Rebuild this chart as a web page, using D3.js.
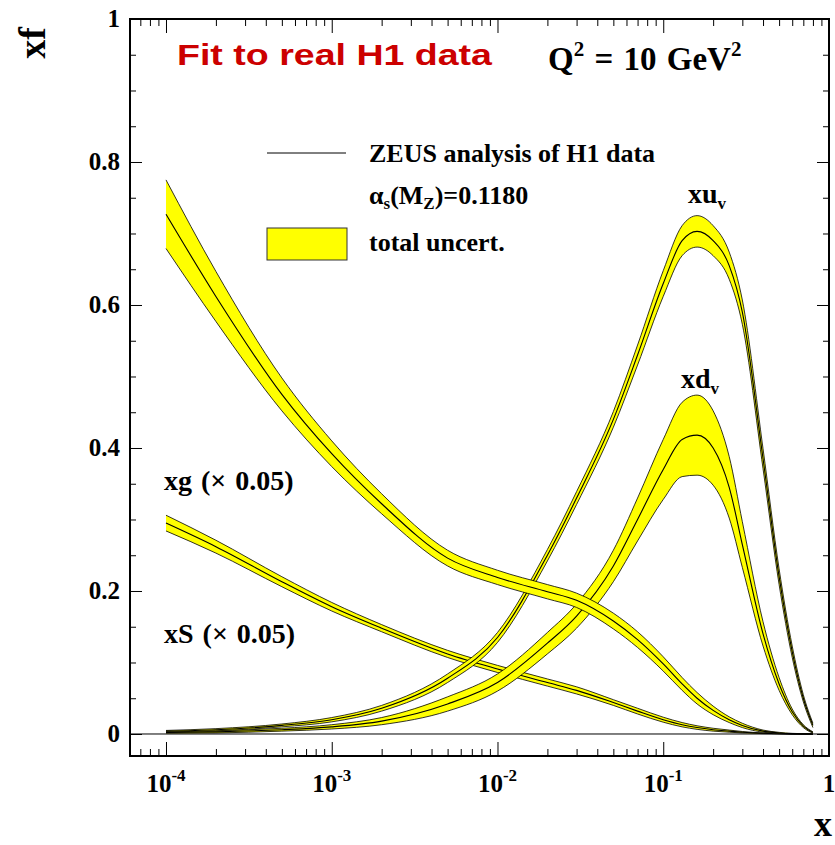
<!DOCTYPE html>
<html><head><meta charset="utf-8">
<script src="https://cdn.jsdelivr.net/npm/d3@7"></script>
<style>body{margin:0;background:#fff} svg{display:block}</style>
</head><body>
<script>
// ---------- data ----------
const xGrid = [1e-4,2e-4,5e-4,1e-3,2e-3,5e-3,1e-2,2e-2,3e-2,5e-2,0.07,0.1,0.13,0.16,0.2,0.25,0.3,0.4,0.5,0.6,0.7,0.8];

const xuvCentral = [0.004,0.006,0.012,0.020,0.036,0.078,0.135,0.250,0.330,0.440,0.530,0.630,0.690,0.703,0.690,0.655,0.590,0.385,0.220,0.115,0.050,0.012];
const xuvErr     = [0.001,0.0015,0.002,0.003,0.004,0.006,0.007,0.008,0.009,0.011,0.014,0.018,0.021,0.022,0.021,0.019,0.017,0.014,0.011,0.008,0.005,0.003];

const xdvCentral = [0.002,0.003,0.006,0.010,0.018,0.042,0.072,0.127,0.165,0.235,0.300,0.370,0.412,0.418,0.400,0.345,0.265,0.140,0.070,0.031,0.011,0.002];
const xdvErr     = [0.001,0.0015,0.002,0.003,0.005,0.010,0.012,0.015,0.017,0.022,0.030,0.042,0.052,0.056,0.052,0.043,0.032,0.017,0.009,0.004,0.002,0.001];

const xgCentral  = [0.727,0.612,0.475,0.392,0.322,0.246,0.219,0.199,0.187,0.158,0.132,0.098,0.070,0.050,0.033,0.020,0.012,0.004,0.0015,0.0005,0.0002,0.0001];
const xgErr      = [0.048,0.035,0.023,0.018,0.014,0.011,0.010,0.010,0.010,0.011,0.011,0.010,0.009,0.008,0.006,0.004,0.003,0.0015,0.0008,0.0004,0.0002,0.0001];

const xSCentral  = [0.295,0.262,0.213,0.178,0.148,0.112,0.091,0.072,0.061,0.044,0.032,0.020,0.013,0.009,0.006,0.004,0.0025,0.001,0.0004,0.0002,0.0001,0.0001];
const xSErr      = [0.011,0.009,0.007,0.006,0.005,0.005,0.005,0.005,0.005,0.004,0.004,0.0035,0.003,0.0025,0.002,0.0015,0.001,0.0005,0.0002,0.0001,0.0001,0.0001];

const yMajorTicks = [0,0.2,0.4,0.6,0.8,1];
const yMajorLabels = ["0","0.2","0.4","0.6","0.8","1"];
const xMajorTicks = [1e-4,1e-3,1e-2,1e-1,1];
const xMajorExp = ["-4","-3","-2","-1",""];

// ---------- layout ----------
const W = 835, H = 845;
const L = 130, R = 829, T = 19, B = 756;
const svg = d3.select("body").append("svg").attr("width", W).attr("height", H);

const x = d3.scaleLog().domain([6.065e-5, 1]).range([L, R]);
const y = d3.scaleLinear().domain([-0.03077, 1]).range([B, T]);

const serif = "'Liberation Serif','Times New Roman',serif";
const sans = "'Liberation Sans',Arial,sans-serif";

// zero line
svg.append("line").attr("x1", L).attr("x2", R).attr("y1", y(0)).attr("y2", y(0))
  .attr("stroke", "#000").attr("stroke-width", 1);

// ---------- bands ----------
function band(central, err) {
  const pts = xGrid.map((xv, i) => ({x: xv, c: central[i], lo: central[i] - err[i], hi: central[i] + err[i]}));
  const curve = d3.curveMonotoneX;
  const area = d3.area().x(d => x(d.x)).y0(d => y(d.lo)).y1(d => y(d.hi)).curve(curve);
  const g = svg.append("g");
  g.append("path").attr("d", area(pts)).attr("fill", "#ffff00").attr("stroke", "none");
  ["hi", "lo", "c"].forEach(k => {
    const ln = d3.line().x(d => x(d.x)).y(d => y(d[k])).curve(curve);
    g.append("path").attr("d", ln(pts)).attr("fill", "none")
      .attr("stroke", "#000").attr("stroke-width", k === "c" ? 1.1 : 0.8);
  });
}
band(xSCentral, xSErr);
band(xdvCentral, xdvErr);
band(xuvCentral, xuvErr);
band(xgCentral, xgErr);

// ---------- axes (ticks inside the frame) ----------
const xMinor = [];
for (let e = -5; e <= 0; e++) for (let m = 2; m <= 9; m++) {
  const v = m * Math.pow(10, e);
  if (v > 6.065e-5 && v < 1) xMinor.push(v);
}
const yMinor = d3.range(0, 21).map(i => i * 0.05).filter(v => !yMajorTicks.some(t => Math.abs(t - v) < 1e-9));

function clean(g) { g.select(".domain").remove(); g.selectAll("line").attr("stroke", "#000").attr("stroke-width", 1); }

svg.append("g").attr("transform", `translate(0,${B})`).call(d3.axisTop(x).tickValues(xMajorTicks).tickSize(14).tickFormat("")).call(clean);
svg.append("g").attr("transform", `translate(0,${B})`).call(d3.axisTop(x).tickValues(xMinor).tickSize(7).tickFormat("")).call(clean);
svg.append("g").attr("transform", `translate(0,${T})`).call(d3.axisBottom(x).tickValues(xMajorTicks).tickSize(14).tickFormat("")).call(clean);
svg.append("g").attr("transform", `translate(0,${T})`).call(d3.axisBottom(x).tickValues(xMinor).tickSize(7).tickFormat("")).call(clean);
svg.append("g").attr("transform", `translate(${L},0)`).call(d3.axisRight(y).tickValues(yMajorTicks).tickSize(12).tickFormat("")).call(clean);
svg.append("g").attr("transform", `translate(${L},0)`).call(d3.axisRight(y).tickValues(yMinor).tickSize(6).tickFormat("")).call(clean);
svg.append("g").attr("transform", `translate(${R},0)`).call(d3.axisLeft(y).tickValues(yMajorTicks).tickSize(12).tickFormat("")).call(clean);
svg.append("g").attr("transform", `translate(${R},0)`).call(d3.axisLeft(y).tickValues(yMinor).tickSize(6).tickFormat("")).call(clean);

// frame
svg.append("rect").attr("x", L).attr("y", T).attr("width", R - L).attr("height", B - T)
  .attr("fill", "none").attr("stroke", "#000").attr("stroke-width", 2);

// y labels
yMajorTicks.forEach((v, i) => {
  svg.append("text").attr("x", 120).attr("y", y(v) + 8).attr("text-anchor", "end")
    .attr("font-family", serif).attr("font-weight", "bold").attr("font-size", 25).text(yMajorLabels[i]);
});
// x labels
xMajorTicks.forEach((v, i) => {
  const t = svg.append("text").attr("x", x(v)).attr("y", 792).attr("text-anchor", "middle")
    .attr("font-family", serif).attr("font-weight", "bold").attr("font-size", 25);
  if (xMajorExp[i]) {
    t.append("tspan").text("10");
    t.append("tspan").attr("font-size", 17).attr("dy", -11).text(xMajorExp[i]);
  } else {
    t.text("1");
  }
});

// axis titles
svg.append("text").attr("transform", "translate(45,43) rotate(-90)").attr("text-anchor", "middle")
  .attr("font-family", serif).attr("font-weight", "bold").attr("font-size", 38).text("xf");
svg.append("text").attr("x", 823).attr("y", 836).attr("text-anchor", "middle")
  .attr("font-family", serif).attr("font-weight", "bold").attr("font-size", 36).text("x");

// title
svg.append("text").attr("x", 177).attr("y", 65).attr("textLength", 315).attr("lengthAdjust", "spacingAndGlyphs")
  .attr("font-family", sans).attr("font-weight", "bold").attr("font-size", 30).attr("fill", "#cc0000")
  .text("Fit to real H1 data");

// Q2
(function(){
  const t = svg.append("text").attr("x", 548).attr("y", 70)
    .attr("font-family", serif).attr("font-weight", "bold").attr("font-size", 33)
    .attr("word-spacing", 2);
  t.append("tspan").text("Q");
  t.append("tspan").attr("font-size", 21).attr("dy", -14).text("2");
  t.append("tspan").attr("dy", 14).text(" = 10 GeV");
  t.append("tspan").attr("font-size", 21).attr("dy", -14).text("2");
})();

// legend
svg.append("line").attr("x1", 267).attr("x2", 346).attr("y1", 153).attr("y2", 153).attr("stroke", "#000").attr("stroke-width", 1);
svg.append("text").attr("x", 369).attr("y", 162).attr("font-family", serif).attr("font-weight", "bold").attr("font-size", 26)
  .text("ZEUS analysis of H1 data");
(function(){
  const t = svg.append("text").attr("x", 369).attr("y", 204).attr("font-family", serif).attr("font-weight", "bold").attr("font-size", 26);
  t.append("tspan").text("α");
  t.append("tspan").attr("font-size", 17).attr("dy", 5).text("s");
  t.append("tspan").attr("dy", -5).text("(M");
  t.append("tspan").attr("font-size", 17).attr("dy", 5).text("Z");
  t.append("tspan").attr("dy", -5).text(")=0.1180");
})();
svg.append("rect").attr("x", 267).attr("y", 228).attr("width", 80).attr("height", 32)
  .attr("fill", "#ffff00").attr("stroke", "#333").attr("stroke-width", 1);
svg.append("text").attr("x", 369).attr("y", 251).attr("font-family", serif).attr("font-weight", "bold").attr("font-size", 26)
  .text("total uncert.");

// curve labels
function subLabel(xp, yp, main, sub) {
  const t = svg.append("text").attr("x", xp).attr("y", yp).attr("font-family", serif).attr("font-weight", "bold").attr("font-size", 28);
  t.append("tspan").text(main);
  t.append("tspan").attr("font-size", 17).attr("dy", 6).text(sub);
}
subLabel(688, 203, "xu", "v");
subLabel(681, 388, "xd", "v");
svg.append("text").attr("x", 164).attr("y", 490).attr("font-family", serif).attr("font-weight", "bold").attr("font-size", 28)
  .attr("word-spacing", 2).text("xg (× 0.05)");
svg.append("text").attr("x", 164).attr("y", 643).attr("font-family", serif).attr("font-weight", "bold").attr("font-size", 28)
  .attr("word-spacing", 2).text("xS (× 0.05)");
</script>
</body></html>
